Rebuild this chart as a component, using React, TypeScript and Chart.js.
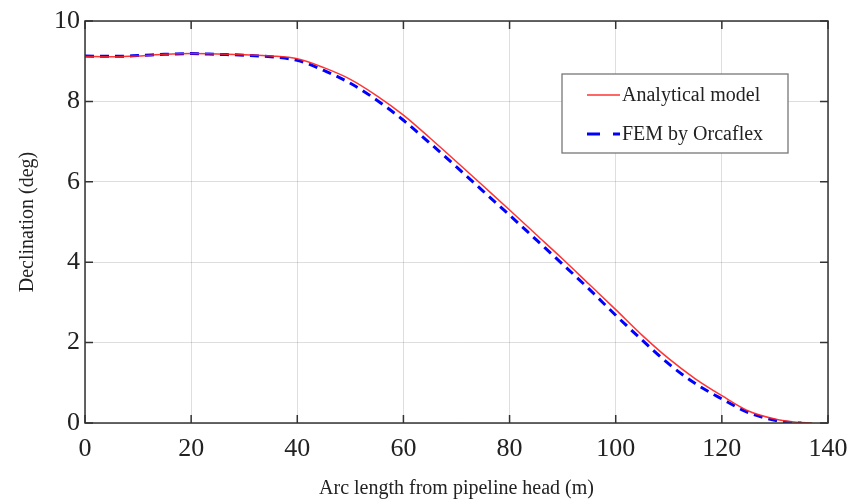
import React, { useEffect, useRef } from "react";
import { Chart, registerables } from "chart.js";

Chart.register(...registerables);

const analyticalX = [0, 5, 10, 15, 20, 25, 30, 35, 40, 45, 50, 55, 60, 65, 70, 75, 80, 85, 90, 95, 100, 105, 110, 115, 120, 125, 130, 134, 137];
const analyticalY = [9.12, 9.11, 9.13, 9.17, 9.19, 9.18, 9.16, 9.13, 9.06, 8.84, 8.55, 8.14, 7.66, 7.09, 6.5, 5.9, 5.3, 4.69, 4.08, 3.45, 2.82, 2.18, 1.6, 1.1, 0.68, 0.3, 0.1, 0.02, 0];

const femX = [0, 5, 10, 15, 20, 25, 30, 35, 40, 45, 50, 55, 60, 65, 70, 75, 80, 85, 90, 95, 100, 105, 110, 115, 120, 125, 130, 133, 135];
const femY = [9.13, 9.12, 9.14, 9.17, 9.19, 9.17, 9.15, 9.11, 9.02, 8.77, 8.45, 8.03, 7.53, 6.96, 6.37, 5.77, 5.17, 4.56, 3.95, 3.33, 2.68, 2.06, 1.47, 0.98, 0.6, 0.26, 0.07, 0.01, 0];

const seriesLabels = ["Analytical model", "FEM by Orcaflex"];
const xTitle = "Arc length from pipeline head (m)";
const yTitle = "Declination (deg)";

const FONT = "'Liberation Serif', 'Times New Roman', serif";

const boxPlugin = {
  id: "matlabBox",
  afterDatasetsDraw(chart: any) {
    const { ctx, chartArea } = chart;
    const { left, right, top, bottom } = chartArea;
    const xs = chart.scales.x;
    const ys = chart.scales.y;
    ctx.save();
    ctx.strokeStyle = "#333";
    ctx.lineWidth = 1.5;
    ctx.strokeRect(left, top, right - left, bottom - top);
    const tl = 8;
    ctx.beginPath();
    xs.ticks.forEach((t: any) => {
      const px = xs.getPixelForValue(t.value);
      ctx.moveTo(px, bottom);
      ctx.lineTo(px, bottom - tl);
      ctx.moveTo(px, top);
      ctx.lineTo(px, top + tl);
    });
    ys.ticks.forEach((t: any) => {
      const py = ys.getPixelForValue(t.value);
      ctx.moveTo(left, py);
      ctx.lineTo(left + tl, py);
      ctx.moveTo(right, py);
      ctx.lineTo(right - tl, py);
    });
    ctx.stroke();

    // legend
    const bx = 562, by = 74, bw = 226, bh = 79;
    ctx.fillStyle = "#fff";
    ctx.fillRect(bx, by, bw, bh);
    ctx.strokeStyle = "#777";
    ctx.lineWidth = 1.3;
    ctx.strokeRect(bx, by, bw, bh);
    const rows = [95, 134];
    chart.data.datasets.forEach((ds: any, i: number) => {
      const y = rows[i];
      ctx.beginPath();
      ctx.strokeStyle = ds.borderColor;
      ctx.lineWidth = ds.borderWidth;
      ctx.setLineDash(ds.borderDash ? [13, 13] : []);
      ctx.moveTo(587, y);
      ctx.lineTo(620, y);
      ctx.stroke();
      ctx.setLineDash([]);
      ctx.fillStyle = "#222";
      ctx.font = `20px ${FONT}`;
      ctx.textAlign = "left";
      ctx.textBaseline = "middle";
      ctx.fillText(ds.label, 622, y + 1);
    });
    ctx.restore();
  },
};

export default function App() {
  const ref = useRef<HTMLCanvasElement | null>(null);
  useEffect(() => {
    if (!ref.current) return;
    const chart = new Chart(ref.current, {
      type: "line",
      data: {
        datasets: [
          {
            label: seriesLabels[0],
            data: analyticalX.map((x, i) => ({ x, y: analyticalY[i] })),
            borderColor: "rgba(255,30,30,0.9)",
            borderWidth: 1.5,
            pointRadius: 0,
            cubicInterpolationMode: "monotone",
            fill: false,
          },
          {
            label: seriesLabels[1],
            data: femX.map((x, i) => ({ x, y: femY[i] })),
            borderColor: "#0000ff",
            borderWidth: 3,
            borderDash: [9, 6],
            pointRadius: 0,
            cubicInterpolationMode: "monotone",
            fill: false,
          },
        ],
      },
      plugins: [boxPlugin],
      options: {
        animation: false,
        responsive: false,
        maintainAspectRatio: false,
        layout: { padding: { left: 0, top: 21, right: 24, bottom: 0 } },
        plugins: { legend: { display: false }, tooltip: { enabled: false } },
        scales: {
          x: {
            type: "linear",
            min: 0,
            max: 140,
            afterFit: (s: any) => {
              s.height = 78;
              s.paddingLeft = 0;
              s.paddingRight = 0;
            },
            ticks: { stepSize: 20, font: { family: FONT, size: 26 }, color: "#222", padding: 11, maxRotation: 0 },
            grid: { color: "rgba(0,0,0,0.13)", lineWidth: 1, drawTicks: false },
            border: { display: false },
            title: { display: true, text: xTitle, font: { family: FONT, size: 20 }, color: "#222", padding: { top: 0, bottom: 0 } },
          },
          y: {
            type: "linear",
            min: 0,
            max: 10,
            afterFit: (s: any) => {
              s.width = 85;
              s.paddingTop = 0;
              s.paddingBottom = 0;
            },
            ticks: { stepSize: 2, font: { family: FONT, size: 26 }, color: "#222", padding: 5 },
            grid: { color: "rgba(0,0,0,0.13)", lineWidth: 1, drawTicks: false },
            border: { display: false },
            title: { display: true, text: yTitle, font: { family: FONT, size: 20 }, color: "#222", padding: { top: 16, bottom: 0 } },
          },
        },
      },
    });
    return () => chart.destroy();
  }, []);
  return (
    <div style={{ position: "absolute", left: 0, top: 0, width: 852, height: 501, background: "#fff" }}>
      <canvas ref={ref} width={852} height={501} style={{ width: 852, height: 501, display: "block" }} />
    </div>
  );
}
